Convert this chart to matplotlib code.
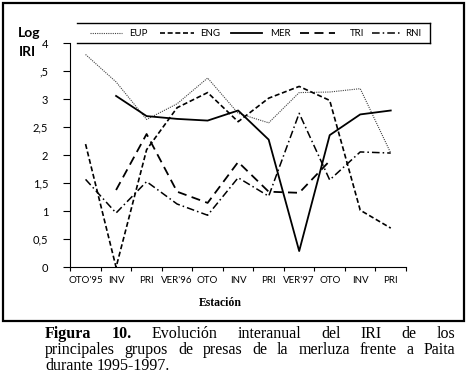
import numpy as np
import matplotlib
matplotlib.use('Agg')
import matplotlib.pyplot as plt
from matplotlib.lines import Line2D
from matplotlib.patches import Rectangle

nan = np.nan

# datos (Log IRI por estacion)
estaciones = ["OTO'95", 'INV', 'PRI', "VER'96", 'OTO', 'INV', 'PRI', "VER'97", 'OTO', 'INV', 'PRI']
eup = [3.80, 3.31, 2.64, 2.92, 3.38, 2.75, 2.58, 3.12, 3.13, 3.19, 2.04]
eng = [2.20, 0.00, 2.10, 2.85, 3.12, 2.60, 3.02, 3.23, 2.98, 1.02, 0.70]
mer = [nan, 3.06, 2.70, 2.65, 2.62, 2.80, 2.28, 0.29, 2.36, 2.73, 2.80]
tri = [nan, 1.38, 2.38, 1.35, 1.15, 1.88, 1.35, 1.33, 1.90, nan, nan]
rni = [1.57, 0.97, 1.53, 1.13, 0.93, 1.60, 1.27, 2.75, 1.56, 2.06, 2.04]

nombres = ['EUP', 'ENG', 'MER', 'TRI', 'RNI']
series = [eup, eng, mer, tri, rni]
y_ticks = [0, 0.5, 1, 1.5, 2, 2.5, 3, 3.5, 4]
y_labels = ['0', '0,5', '1', '1,5', '2', '2,5', '3', ',5', '4']

estilos = {
    'EUP': dict(ls=(0, (1, 1)), lw=0.8, color='#444444'),
    'ENG': dict(ls=(0, (3, 1.6)), lw=1.2, color='black'),
    'MER': dict(ls='-', lw=1.3, color='black'),
    'TRI': dict(ls=(0, (5, 3)), lw=1.3, color='black'),
    'RNI': dict(ls=(0, (5, 2, 1, 2)), lw=1.1, color='black'),
}

W, H = 467, 384


def fx(x):
    return x / W


def fy(y):
    return 1 - y / H


fig = plt.figure(figsize=(W / 100, H / 100), dpi=100)
fig.patch.set_facecolor('white')

# marco exterior
fig.add_artist(Rectangle((fx(3), fy(320.5)), (464 - 3) / W, (320.5 - 3) / H,
                         transform=fig.transFigure, fill=False, lw=1.6, color='black'))

ax = fig.add_axes([fx(70.3), fy(267.3), (406 - 70.3) / W, (267.3 - 43.3) / H])
x = np.arange(len(estaciones))
for nombre, vals in zip(nombres, series):
    ax.plot(x, vals, **estilos[nombre])

ax.set_ylim(0, 4)
ax.set_xlim(-0.5, len(estaciones) - 0.5)
ax.spines['top'].set_visible(False)
ax.spines['right'].set_visible(False)
ax.spines['left'].set_linewidth(0.8)
ax.spines['bottom'].set_linewidth(0.8)

ax.set_yticks(y_ticks)
ax.set_yticklabels(y_labels, fontsize=8, family='Lato')
ax.tick_params(axis='y', length=5, width=0.8, pad=11)

ax.set_xticks(np.arange(-0.5, len(estaciones), 1.0))
ax.set_xticklabels([])
ax.tick_params(axis='x', which='major', length=3, width=0.8)
ax.set_xticks(x, minor=True)
ax.set_xticklabels(estaciones, minor=True, fontsize=7, family='Lato')
ax.tick_params(axis='x', which='minor', length=0, pad=6)

fig.text(fx(220), fy(303), 'Estación', ha='center', va='center',
         fontsize=8.5, weight='bold', family='Liberation Serif')

fig.text(fx(18), fy(33), 'Log', ha='left', va='center', fontsize=10,
         weight='bold', family='Lato')
fig.text(fx(19), fy(52), 'IRI', ha='left', va='center', fontsize=10,
         weight='bold', family='Lato')

# leyenda dibujada a mano
for seg in [((77, 430), (23.3, 23.3)), ((77, 430), (43.3, 43.3)), ((430, 430), (23.3, 43.3))]:
    fig.add_artist(Line2D([fx(seg[0][0]), fx(seg[0][1])], [fy(seg[1][0]), fy(seg[1][1])],
                          transform=fig.transFigure, color='black', lw=1.0))
leg_x = [(90, 122, 129), (160, 194, 200), (231, 262, 270), (300, 335, 350), (372, 400, 405)]
for nombre, (a, b, t) in zip(nombres, leg_x):
    fig.add_artist(Line2D([fx(a), fx(b)], [fy(33.3), fy(33.3)], transform=fig.transFigure,
                          **estilos[nombre]))
    fig.text(fx(t), fy(33.3), nombre, ha='left', va='center', fontsize=7, family='Lato')

# pie de figura justificado
renderer = fig.canvas.get_renderer()


def linea(palabras, y, x0, x1, justificar=True):
    textos = []
    for w, negrita in palabras:
        textos.append(fig.text(0, fy(y), w, fontsize=11.5, family='Liberation Serif',
                               weight='bold' if negrita else 'normal', va='baseline'))
    anchos = [t.get_window_extent(renderer).width for t in textos]
    if justificar and len(textos) > 1:
        hueco = (x1 - x0 - sum(anchos)) / (len(textos) - 1)
    else:
        hueco = 4
    pos = x0
    for t, a in zip(textos, anchos):
        t.set_x(fx(pos))
        pos += a + hueco


linea([('Figura', True), ('10.', True), ('Evolución', False), ('interanual', False),
       ('del', False), ('IRI', False), ('de', False), ('los', False)], 338, 45, 455)
linea([(w, False) for w in 'principales grupos de presas de la merluza frente a Paita'.split()],
      354, 45, 455)
linea([('durante', False), ('1995-1997.', False)], 370, 45, 455, justificar=False)

fig.savefig('out.png', dpi=100, facecolor='white')
